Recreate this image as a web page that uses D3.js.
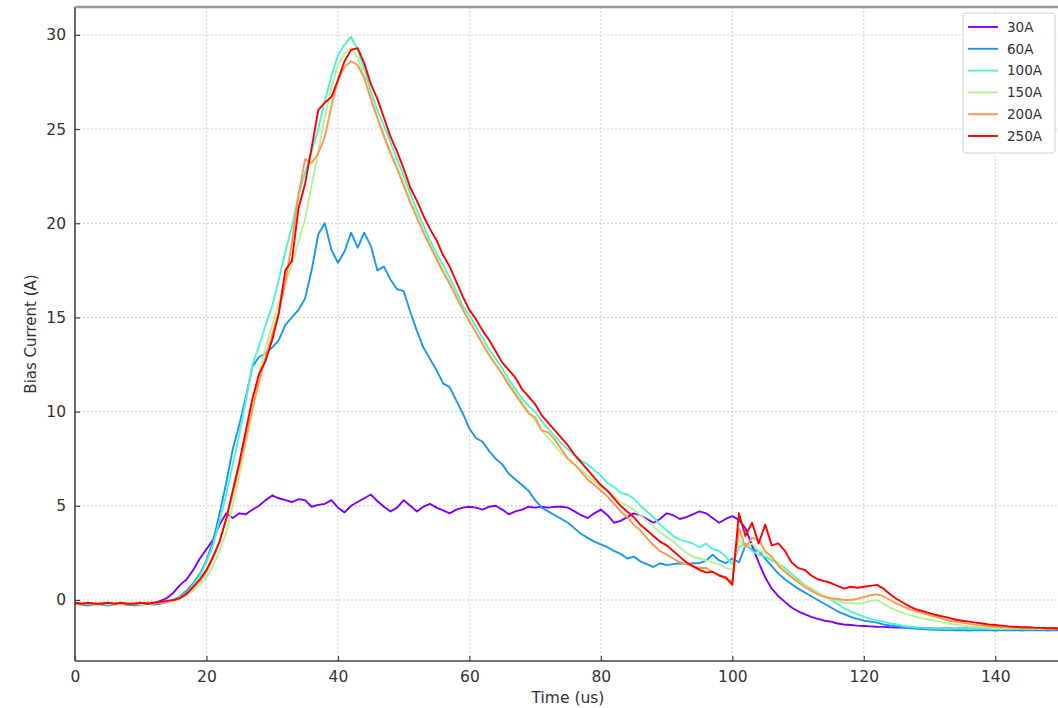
<!DOCTYPE html>
<html>
<head>
<meta charset="utf-8">
<script src="https://cdn.jsdelivr.net/npm/d3@7"></script>
<style>
  html, body { margin: 0; padding: 0; background: #fff; }
  svg { display: block; }
  text { font-family: "DejaVu Sans", sans-serif; }
</style>
</head>
<body>
<svg id="chart" width="1058" height="708"></svg>
<script>
// ---- data ----
const timeUs = [0,1,2,3,4,5,6,7,8,9,10,11,12,13,14,15,16,17,18,19,20,21,22,23,24,25,26,27,28,29,30,31,32,33,34,35,36,37,38,39,40,41,42,43,44,45,46,47,48,49,50,51,52,53,54,55,56,57,58,59,60,61,62,63,64,65,66,67,68,69,70,71,72,73,74,75,76,77,78,79,80,81,82,83,84,85,86,87,88,89,90,91,92,93,94,95,96,97,98,99,100,101,102,103,104,105,106,107,108,109,110,111,112,113,114,115,116,117,118,119,120,121,122,123,124,125,126,127,128,129,130,131,132,133,134,135,136,137,138,139,140,141,142,143,144,145,146,147,148,149,150];

const seriesNames = ["30A","60A","100A","150A","200A","250A"];

const s30A = [-0.2,-0.15,-0.25,-0.2,-0.15,-0.25,-0.2,-0.2,-0.25,-0.2,
 -0.2,-0.15,-0.15,-0.05,0.1,0.4,0.8,1.1,1.6,2.2,
 2.7,3.2,4.0,4.6,4.35,4.6,4.55,4.8,5.0,5.3,
 5.55,5.4,5.3,5.2,5.35,5.3,4.95,5.05,5.1,5.3,
 4.9,4.65,5.0,5.2,5.4,5.6,5.25,4.95,4.7,4.9,
 5.3,5.0,4.7,4.95,5.1,4.9,4.75,4.6,4.8,4.9,
 4.95,4.9,4.8,4.95,5.0,4.8,4.55,4.7,4.8,4.95,
 4.9,4.95,4.9,4.95,4.95,4.9,4.7,4.5,4.35,4.6,
 4.8,4.5,4.1,4.2,4.4,4.6,4.5,4.3,4.1,4.3,
 4.6,4.5,4.3,4.4,4.55,4.7,4.6,4.35,4.1,4.3,
 4.45,4.25,3.8,2.9,2.0,1.2,0.6,0.2,-0.1,-0.4,
 -0.6,-0.75,-0.9,-1.0,-1.1,-1.15,-1.25,-1.3,-1.33,-1.36,
 -1.38,-1.4,-1.42,-1.43,-1.45,-1.46,-1.47,-1.48,-1.5,-1.5,
 -1.5,-1.52,-1.5,-1.51,-1.52,-1.5,-1.52,-1.51,-1.5,-1.52,
 -1.51,-1.5,-1.52,-1.51,-1.5,-1.52,-1.51,-1.5,-1.52,-1.51,-1.5];

const s60A = [-0.2,-0.25,-0.3,-0.2,-0.25,-0.3,-0.25,-0.2,-0.25,-0.3,
 -0.25,-0.2,-0.25,-0.2,-0.1,0.0,0.2,0.5,0.9,1.4,
 2.1,3.1,4.6,6.2,8.0,9.3,10.8,12.4,12.9,13.1,
 13.4,13.8,14.6,15.0,15.4,16.0,17.5,19.4,20.0,18.6,
 17.9,18.5,19.5,18.7,19.5,18.8,17.5,17.7,17.0,16.5,
 16.4,15.3,14.3,13.4,12.8,12.2,11.5,11.3,10.6,9.9,
 9.1,8.6,8.4,7.9,7.5,7.2,6.7,6.4,6.1,5.8,
 5.3,4.9,4.7,4.5,4.3,4.1,3.8,3.5,3.3,3.1,
 2.95,2.8,2.6,2.45,2.2,2.3,2.05,1.9,1.75,1.95,
 1.85,1.9,1.95,1.9,1.95,1.95,2.1,2.4,2.1,1.95,
 2.2,2.0,2.9,2.7,2.6,2.2,1.8,1.4,1.1,0.85,
 0.6,0.4,0.2,0.0,-0.2,-0.4,-0.6,-0.75,-0.9,-1.0,
 -1.1,-1.15,-1.2,-1.3,-1.35,-1.4,-1.45,-1.5,-1.52,-1.55,
 -1.57,-1.58,-1.6,-1.6,-1.61,-1.6,-1.62,-1.6,-1.61,-1.6,
 -1.62,-1.6,-1.61,-1.6,-1.62,-1.6,-1.61,-1.6,-1.62,-1.6,-1.61];

const s100A = [-0.15,-0.2,-0.2,-0.15,-0.2,-0.25,-0.2,-0.15,-0.2,-0.25,
 -0.2,-0.2,-0.15,-0.15,-0.1,0.0,0.15,0.4,0.8,1.3,
 2.0,2.9,4.2,5.6,7.2,8.8,10.6,12.5,13.5,14.6,
 15.6,17.0,18.5,19.8,21.5,22.7,23.8,25.0,26.5,27.8,
 28.9,29.5,29.9,29.2,28.2,27.0,26.0,25.2,24.3,23.4,
 22.5,21.6,20.7,19.9,19.1,18.4,17.8,17.1,16.4,15.6,
 15.1,14.5,13.9,13.3,12.8,12.3,11.7,11.2,10.7,10.3,
 10.0,9.5,9.1,8.7,8.3,8.0,7.7,7.4,7.2,6.9,
 6.6,6.2,6.0,5.7,5.6,5.4,5.0,4.7,4.4,4.0,
 3.7,3.4,3.2,3.1,3.0,2.8,3.0,2.7,2.6,2.3,
 1.9,2.8,3.0,2.6,2.4,2.3,2.1,1.95,1.7,1.4,
 1.1,0.8,0.6,0.4,0.2,0.0,-0.2,-0.45,-0.6,-0.75,
 -0.9,-1.0,-1.08,-1.15,-1.25,-1.3,-1.38,-1.42,-1.45,-1.48,
 -1.5,-1.52,-1.5,-1.53,-1.52,-1.5,-1.53,-1.52,-1.5,-1.53,
 -1.52,-1.55,-1.53,-1.52,-1.55,-1.53,-1.52,-1.55,-1.53,-1.52,-1.55];

const s150A = [-0.2,-0.15,-0.2,-0.2,-0.15,-0.2,-0.25,-0.2,-0.2,-0.15,
 -0.2,-0.2,-0.15,-0.15,-0.1,-0.05,0.05,0.25,0.5,0.8,
 1.2,1.8,2.6,3.6,5.0,6.6,8.3,10.0,12.0,13.4,
 14.6,15.8,16.8,17.8,19.0,20.2,22.0,23.8,25.6,27.2,
 28.4,29.0,29.3,28.8,27.8,26.6,25.6,24.7,23.8,23.0,
 22.1,21.2,20.4,19.6,18.9,18.2,17.5,16.8,16.1,15.4,
 14.8,14.2,13.6,13.0,12.5,12.0,11.5,11.0,10.5,10.0,
 9.5,9.0,8.6,8.2,7.8,7.5,7.2,6.9,6.6,6.3,
 6.0,5.8,5.5,5.2,5.0,4.8,4.5,4.2,3.9,3.6,
 3.35,3.1,2.8,2.5,2.3,2.2,2.1,2.0,1.9,1.7,
 1.6,3.2,2.8,3.0,2.6,2.5,2.2,1.96,1.6,1.3,
 1.0,0.8,0.55,0.4,0.2,0.05,-0.05,-0.15,-0.15,-0.2,
 -0.15,-0.05,0.0,-0.2,-0.4,-0.55,-0.7,-0.8,-0.9,-1.0,
 -1.05,-1.1,-1.2,-1.25,-1.3,-1.35,-1.4,-1.42,-1.45,-1.48,
 -1.5,-1.48,-1.52,-1.5,-1.48,-1.52,-1.5,-1.53,-1.5,-1.52,-1.5];

const s200A = [-0.25,-0.2,-0.2,-0.25,-0.2,-0.15,-0.2,-0.2,-0.25,-0.2,
 -0.15,-0.2,-0.2,-0.15,-0.1,0.0,0.1,0.3,0.65,1.0,
 1.5,2.2,3.1,4.3,5.6,7.1,8.6,10.2,11.6,12.9,
 14.1,15.3,16.8,19.0,21.5,23.4,23.2,23.7,24.6,26.2,
 27.6,28.3,28.6,28.4,27.7,26.6,25.6,24.6,23.7,22.9,
 22.0,21.1,20.3,19.5,18.8,18.1,17.4,16.8,16.1,15.4,
 14.8,14.2,13.6,13.0,12.5,12.0,11.4,10.9,10.4,9.9,
 9.7,9.0,8.9,8.5,8.0,7.5,7.2,6.8,6.4,6.1,
 5.8,5.5,5.1,4.7,4.4,4.0,3.7,3.3,2.9,2.6,
 2.4,2.2,2.0,1.9,1.8,1.7,1.7,1.5,1.3,1.1,
 1.0,3.8,2.8,3.3,3.2,2.6,2.3,1.8,1.5,1.2,
 0.95,0.7,0.5,0.3,0.16,0.1,0.05,0.0,0.0,0.05,
 0.15,0.25,0.3,0.2,0.0,-0.2,-0.35,-0.5,-0.6,-0.7,
 -0.8,-0.9,-1.0,-1.1,-1.15,-1.2,-1.27,-1.32,-1.36,-1.4,
 -1.42,-1.45,-1.47,-1.45,-1.48,-1.5,-1.48,-1.5,-1.52,-1.5,-1.52];

const s250A = [-0.15,-0.2,-0.15,-0.2,-0.2,-0.15,-0.2,-0.15,-0.2,-0.2,
 -0.15,-0.2,-0.15,-0.1,-0.05,0.0,0.1,0.35,0.7,1.1,
 1.6,2.3,3.1,4.3,5.8,7.3,9.0,10.7,12.0,12.7,
 13.8,15.2,17.5,18.0,20.8,22.1,24.0,26.0,26.4,26.7,
 27.6,28.6,29.2,29.3,28.5,27.4,26.6,25.6,24.6,23.8,
 22.9,21.9,21.2,20.4,19.7,19.1,18.3,17.7,16.9,16.1,
 15.4,14.9,14.3,13.8,13.2,12.6,12.2,11.8,11.2,10.8,
 10.4,9.8,9.4,9.0,8.6,8.2,7.7,7.3,6.9,6.5,
 6.1,5.8,5.4,5.0,4.7,4.4,4.0,3.7,3.4,3.1,
 2.9,2.6,2.3,2.0,1.8,1.6,1.45,1.5,1.3,1.2,
 0.8,4.6,3.4,4.1,3.0,4.0,2.9,3.0,2.6,2.0,
 1.7,1.6,1.3,1.1,1.0,0.9,0.75,0.6,0.7,0.65,
 0.7,0.75,0.8,0.6,0.3,0.05,-0.15,-0.35,-0.5,-0.6,
 -0.7,-0.8,-0.88,-0.95,-1.05,-1.1,-1.15,-1.2,-1.25,-1.3,
 -1.33,-1.36,-1.4,-1.42,-1.45,-1.45,-1.47,-1.48,-1.5,-1.5,-1.52];

const seriesColors = ["#8000ff","#1996f3","#4df3ce","#b2f396","#ff964f","#ff0000"];
const xTicks = [0,20,40,60,80,100,120,140];
const yTicks = [0,5,10,15,20,25,30];

const allSeries = [s30A, s60A, s100A, s150A, s200A, s250A];

// ---- layout ----
const svg = d3.select("#chart");
const pL = 75, pR = 1061, pT = 7, pB = 661;

const x = d3.scaleLinear().domain([0, 150]).range([pL, pR]);
const y = d3.scaleLinear().domain([-3.24, 31.48]).range([pB, pT]);

svg.append("defs").append("clipPath").attr("id", "clip")
  .append("rect").attr("x", pL).attr("y", pT).attr("width", pR - pL).attr("height", pB - pT);

// grid
const grid = svg.append("g");
grid.selectAll(".gx").data(xTicks.filter(d => d > 0)).join("line")
  .attr("x1", d => x(d)).attr("x2", d => x(d)).attr("y1", pT).attr("y2", pB)
  .attr("stroke", "#cfcfcf").attr("stroke-width", 1).attr("stroke-dasharray", "2,2");
grid.selectAll(".gy").data(yTicks).join("line")
  .attr("x1", pL).attr("x2", pR).attr("y1", d => y(d)).attr("y2", d => y(d))
  .attr("stroke", "#cfcfcf").attr("stroke-width", 1).attr("stroke-dasharray", "2,2");

// lines
const line = d3.line().x((d, i) => x(timeUs[i])).y(d => y(d));
const lines = svg.append("g").attr("clip-path", "url(#clip)");
allSeries.forEach((s, k) => {
  lines.append("path").datum(s)
    .attr("d", line)
    .attr("fill", "none")
    .attr("stroke", seriesColors[k])
    .attr("stroke-width", 1.9)
    .attr("stroke-linejoin", "round");
});

// axes
const xAxis = d3.axisBottom(x).tickValues(xTicks).tickSizeInner(-5).tickSizeOuter(0).tickPadding(10);
const yAxis = d3.axisLeft(y).tickValues(yTicks).tickSizeInner(-5).tickSizeOuter(0).tickPadding(9);

const gx = svg.append("g").attr("transform", `translate(0,${pB})`).call(xAxis);
const gy = svg.append("g").attr("transform", `translate(${pL},0)`).call(yAxis);
[gx, gy].forEach(g => {
  g.select(".domain").remove();
  g.selectAll(".tick line").attr("stroke", "#444").attr("stroke-width", 1.2);
  g.selectAll(".tick text").attr("fill", "#333").style("font-size", "15.5px")
    .style("font-family", "'DejaVu Sans', sans-serif");
});

// spines
svg.append("line").attr("x1", pL).attr("x2", pL).attr("y1", pT).attr("y2", pB)
  .attr("stroke", "#444").attr("stroke-width", 1.6);
svg.append("line").attr("x1", pL).attr("x2", pR).attr("y1", pB).attr("y2", pB)
  .attr("stroke", "#444").attr("stroke-width", 1.6);
svg.append("line").attr("x1", pL).attr("x2", pR).attr("y1", pT).attr("y2", pT)
  .attr("stroke", "#999").attr("stroke-width", 2.5);

// axis labels
svg.append("text").attr("x", (pL + pR) / 2).attr("y", 703)
  .attr("text-anchor", "middle").attr("fill", "#333").style("font-size", "15.5px")
  .text("Time (us)");
svg.append("text").attr("transform", `translate(36,${(pT + pB) / 2}) rotate(-90)`)
  .attr("text-anchor", "middle").attr("fill", "#333").style("font-size", "15px")
  .text("Bias Current (A)");

// legend
const lg = svg.append("g");
lg.append("rect").attr("x", 963).attr("y", 13).attr("width", 92).attr("height", 140)
  .attr("rx", 3).attr("fill", "#fff").attr("fill-opacity", 0.85)
  .attr("stroke", "#d0d0d0").attr("stroke-width", 1);
seriesNames.forEach((name, k) => {
  const yy = 27 + k * 21.8;
  lg.append("line").attr("x1", 968).attr("x2", 998).attr("y1", yy).attr("y2", yy)
    .attr("stroke", seriesColors[k]).attr("stroke-width", 1.9);
  lg.append("text").attr("x", 1007).attr("y", yy).attr("dy", "0.36em")
    .attr("fill", "#333").style("font-size", "13.5px").text(name);
});
</script>
</body>
</html>
